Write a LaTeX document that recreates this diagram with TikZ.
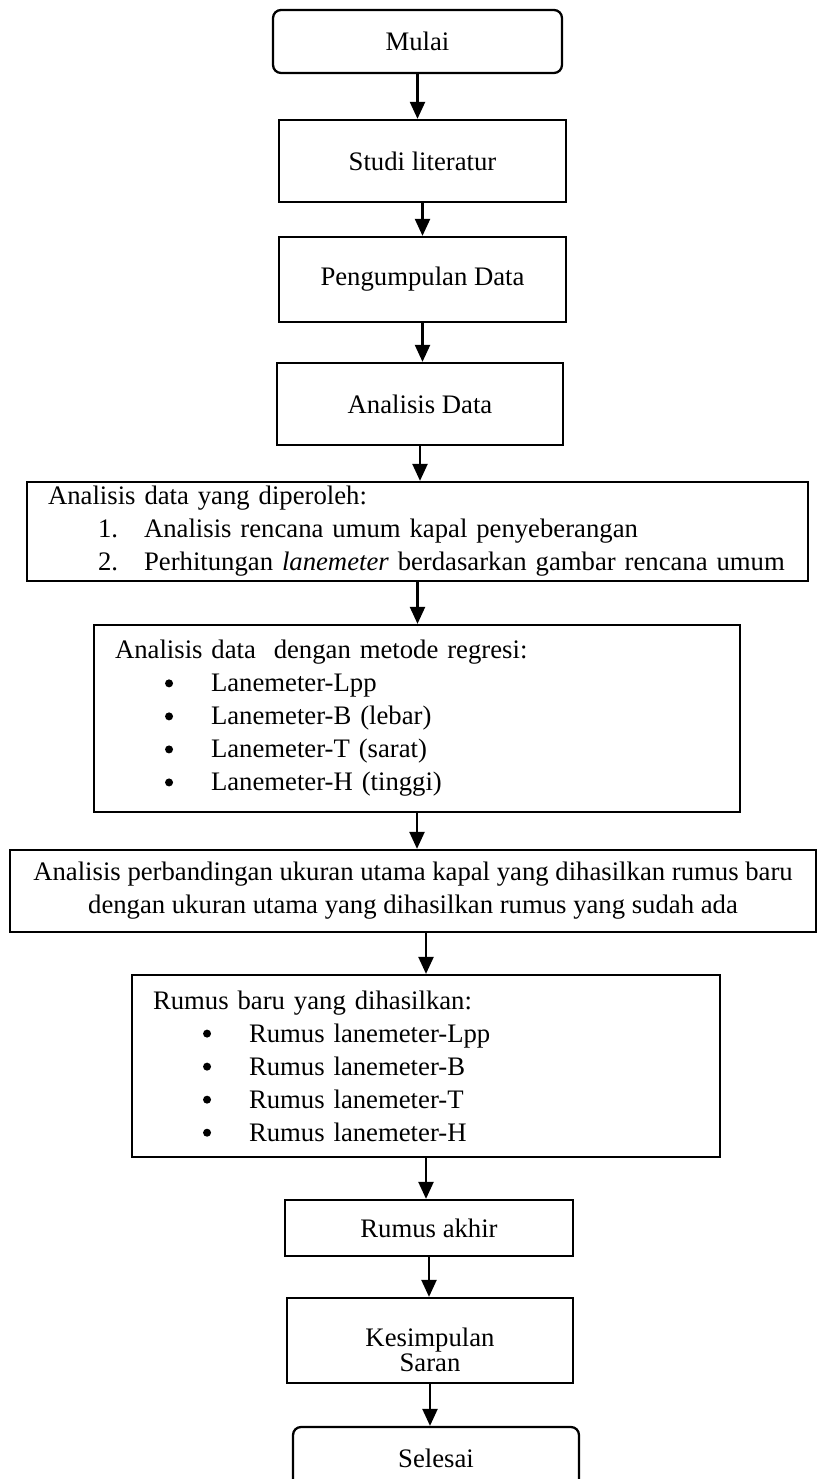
\documentclass[tikz,border=0pt]{standalone}
\usepackage{fontspec}
\setmainfont{Liberation Serif}
\usetikzlibrary{arrows.meta,positioning}
\newcommand{\itemline}[2]{\hspace*{1cm}\makebox[0.92cm][l]{#1}\mbox{#2}}
\newcommand{\dotmark}{\tikz[baseline=-0.17cm]\fill (0,0) circle (0.08cm);}

\begin{document}
\begin{tikzpicture}[x=0.02cm,y=-0.02cm,>={Triangle[length=0.34cm,width=0.3cm]},
    font=\fontsize{15.2}{18.8}\selectfont,
    box/.style={draw,line width=1.3pt,inner sep=0pt,align=center},
    terminal/.style={box,rounded corners=0.16cm},
    listbox/.style={draw,line width=1.3pt,align=left,inner xsep=0.42cm,inner ysep=0pt},
    arr/.style={->,line width=1.3pt}]
      \useasboundingbox (0,0) rectangle (817,1479);
      \node[terminal,minimum width=5.78cm,minimum height=1.26cm] (mulai) at (417.5,41.5) {Mulai};
      \node[box,minimum width=5.74cm,minimum height=1.64cm] (studi) at (422.5,161) {Studi literatur};
      \node[box,minimum width=5.74cm,minimum height=1.70cm] (kumpul) at (422.5,279.5) {Pengumpulan Data};
      \node[box,minimum width=5.72cm,minimum height=1.64cm] (analisis) at (420,404) {Analisis Data};
      \node[listbox,text width=14.78cm,minimum height=1.98cm] (olah) at (417.5,531.5)
        {Analisis data yang diperoleh:\\
         \itemline{1.}{Analisis rencana umum kapal penyeberangan}\\
         \itemline{2.}{Perhitungan \textit{lanemeter} berdasarkan gambar rencana umum}};
      \node[listbox,text width=12.08cm,minimum height=3.74cm] (regresi) at (417,718.5)
        {Analisis data~ dengan metode regresi:\\
         \itemline{\dotmark}{Lanemeter-Lpp}\\
         \itemline{\dotmark}{Lanemeter-B (lebar)}\\
         \itemline{\dotmark}{Lanemeter-T (sarat)}\\
         \itemline{\dotmark}{Lanemeter-H (tinggi)}};
      \node[box,minimum width=16.12cm,minimum height=1.64cm] (banding) at (413,891)
        {Analisis perbandingan ukuran utama kapal yang dihasilkan rumus baru\\
         dengan ukuran utama yang dihasilkan rumus yang sudah ada};
      \node[listbox,text width=10.92cm,minimum height=3.64cm] (rumus) at (426,1066)
        {Rumus baru yang dihasilkan:\\
         \itemline{\dotmark}{Rumus lanemeter-Lpp}\\
         \itemline{\dotmark}{Rumus lanemeter-B}\\
         \itemline{\dotmark}{Rumus lanemeter-T}\\
         \itemline{\dotmark}{Rumus lanemeter-H}};
      \node[box,minimum width=5.76cm,minimum height=1.12cm] (akhir) at (429,1228) {Rumus akhir};
      \node[box,minimum width=5.72cm,minimum height=1.70cm] (simpul) at (430,1340.5)
        {\rule{0pt}{0.75cm}Kesimpulan\\[-0.16cm]Saran};
      \node[terminal,minimum width=5.72cm,minimum height=1.26cm] (selesai) at (436,1458.5) {Selesai};
      % alur
      \draw[arr] (mulai.south) -- (mulai.south |- studi.north);
      \draw[arr] (studi.south) -- (studi.south |- kumpul.north);
      \draw[arr] (kumpul.south) -- (kumpul.south |- analisis.north);
      \draw[arr] (analisis.south) -- (analisis.south |- olah.north);
      \draw[arr] (olah.south) -- (olah.south |- regresi.north);
      \draw[arr] (regresi.south) -- (regresi.south |- banding.north);
      \draw[arr] (rumus.north |- banding.south) -- (rumus.north);
      \draw[arr] (rumus.south) -- (rumus.south |- akhir.north);
      \draw[arr] (akhir.south) -- (akhir.south |- simpul.north);
      \draw[arr] (simpul.south) -- (simpul.south |- selesai.north);
    \end{tikzpicture}
\end{document}
